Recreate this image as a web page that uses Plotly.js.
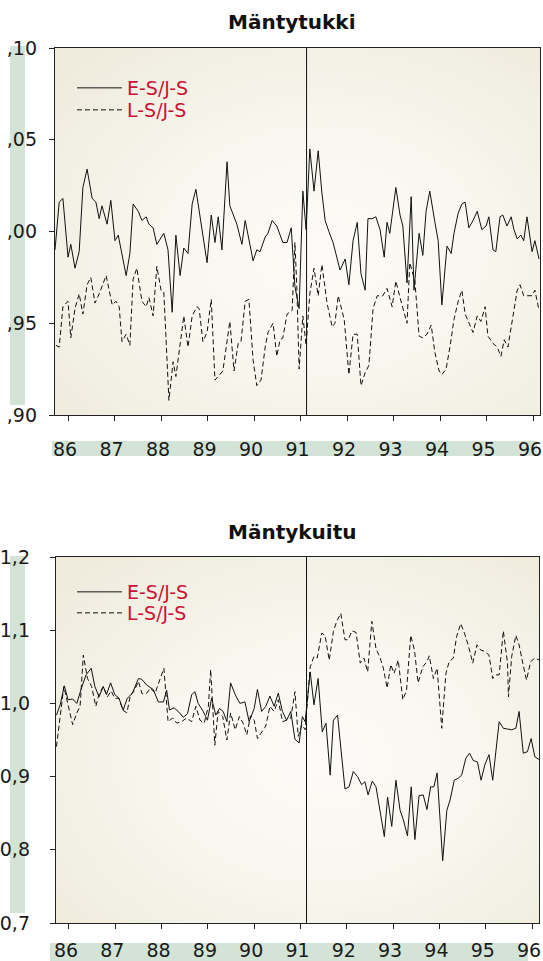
<!DOCTYPE html>
<html>
<head>
<meta charset="utf-8">
<script src="https://cdn.plot.ly/plotly-3.0.1.min.js"></script>
<style>html,body{margin:0;padding:0;background:#fff;}#chart{width:543px;height:961px;}</style>
</head>
<body>
<div id="chart"></div>
<script>
// ---------------- DATA ----------------
const tickYears = [86, 87, 88, 89, 90, 91, 92, 93, 94, 95, 96];
const tickYearLabels = ["86", "87", "88", "89", "90", "91", "92", "93", "94", "95", "96"];
const breakYear = 91.13;

const tukkiTickVals = [0.90, 0.95, 1.00, 1.05, 1.10];
const tukkiTickText = [",90", ",95", ",00", ",05", ",10"];
const kuituTickVals = [0.7, 0.8, 0.9, 1.0, 1.1, 1.2];
const kuituTickText = ["0,7", "0,8", "0,9", "1,0", "1,1", "1,2"];

const seriesNames = ["E-S/J-S", "L-S/J-S"];
const chartTitles = ["Mäntytukki", "Mäntykuitu"];

// Mäntytukki, E-S/J-S
const tukkiES_x = [85.72,85.81,85.89,86.00,86.06,86.15,86.24,86.32,86.41,86.52,86.60,86.67,86.73,86.84,86.92,87.01,87.08,87.25,87.33,87.40,87.51,87.59,87.68,87.74,87.83,87.91,88.06,88.15,88.24,88.32,88.41,88.49,88.58,88.67,88.75,88.82,88.90,88.99,89.08,89.16,89.23,89.31,89.42,89.48,89.63,89.74,89.81,89.98,90.06,90.13,90.24,90.30,90.39,90.49,90.62,90.71,90.80,90.88,90.97,91.05,91.12,91.20,91.29,91.38,91.46,91.53,91.61,91.70,91.85,91.96,92.04,92.13,92.22,92.30,92.39,92.45,92.54,92.62,92.71,92.80,92.86,92.92,93.05,93.14,93.20,93.29,93.38,93.44,93.55,93.63,93.70,93.78,93.89,93.96,94.04,94.15,94.24,94.30,94.39,94.47,94.54,94.62,94.71,94.80,94.90,94.99,95.05,95.14,95.20,95.29,95.35,95.44,95.53,95.59,95.66,95.74,95.80,95.87,95.98,96.04,96.13];
const tukkiES_y = [0.990,1.016,1.018,0.986,0.993,0.980,0.989,1.024,1.034,1.018,1.016,1.007,1.014,1.004,1.017,0.995,0.998,0.976,0.988,1.015,1.011,1.006,1.008,1.004,1.002,0.993,0.999,0.990,0.956,0.998,0.976,0.991,0.988,1.015,1.023,1.012,0.999,0.983,1.009,0.994,1.008,0.990,1.038,1.014,1.004,0.993,1.006,0.984,0.990,0.989,0.997,0.999,1.006,1.003,0.994,0.994,1.002,0.970,0.958,1.022,1.001,1.045,1.022,1.044,1.021,1.006,1.000,0.994,0.979,0.985,0.971,0.995,1.005,0.977,0.968,1.007,1.007,1.008,1.001,0.986,1.005,0.999,1.024,1.009,1.003,0.972,1.019,0.968,0.999,0.987,1.011,1.022,1.005,0.995,0.960,0.992,0.988,0.999,1.010,1.015,1.016,1.002,1.006,1.011,1.001,1.003,1.008,0.990,0.989,1.008,1.009,1.003,1.008,1.001,0.996,0.998,0.995,1.008,0.989,0.995,0.985];

// Mäntytukki, L-S/J-S
const tukkiLS_x = [85.74,85.81,85.89,86.00,86.06,86.15,86.24,86.32,86.41,86.49,86.58,86.67,86.82,86.95,87.03,87.10,87.16,87.25,87.33,87.40,87.48,87.59,87.68,87.74,87.83,87.91,88.00,88.06,88.17,88.26,88.32,88.41,88.49,88.58,88.67,88.77,88.82,88.90,88.99,89.08,89.16,89.33,89.48,89.57,89.66,89.72,89.81,89.89,89.98,90.06,90.15,90.24,90.30,90.41,90.49,90.56,90.62,90.71,90.82,90.88,90.92,90.97,91.05,91.12,91.20,91.29,91.38,91.46,91.57,91.68,91.74,91.81,91.94,92.04,92.13,92.22,92.30,92.39,92.47,92.56,92.65,92.77,92.86,92.97,93.05,93.14,93.20,93.29,93.35,93.46,93.55,93.63,93.72,93.81,93.89,93.98,94.04,94.13,94.22,94.30,94.39,94.47,94.54,94.62,94.71,94.80,94.88,94.97,95.03,95.14,95.23,95.31,95.38,95.46,95.55,95.66,95.72,95.80,95.89,95.98,96.04,96.13];
const tukkiLS_y = [0.938,0.937,0.959,0.962,0.942,0.958,0.966,0.955,0.971,0.975,0.961,0.966,0.976,0.960,0.962,0.959,0.940,0.944,0.938,0.974,0.980,0.962,0.959,0.964,0.954,0.981,0.968,0.967,0.908,0.929,0.921,0.937,0.954,0.937,0.954,0.959,0.958,0.940,0.945,0.963,0.919,0.924,0.951,0.924,0.939,0.940,0.962,0.963,0.930,0.916,0.919,0.937,0.945,0.950,0.932,0.941,0.942,0.955,0.957,0.994,0.970,0.925,0.954,0.938,0.966,0.980,0.965,0.982,0.961,0.948,0.950,0.965,0.952,0.922,0.944,0.944,0.916,0.923,0.927,0.958,0.965,0.965,0.969,0.959,0.973,0.964,0.958,0.950,0.983,0.973,0.943,0.942,0.944,0.949,0.934,0.924,0.922,0.925,0.938,0.952,0.962,0.968,0.955,0.950,0.945,0.954,0.951,0.959,0.943,0.939,0.937,0.932,0.941,0.937,0.951,0.968,0.971,0.965,0.965,0.965,0.968,0.957];

// Mäntykuitu, E-S/J-S
const kuituES_x = [85.73,85.81,85.90,85.98,86.08,86.17,86.27,86.37,86.48,86.56,86.65,86.74,86.81,86.90,86.99,87.08,87.17,87.26,87.37,87.50,87.57,87.68,87.82,87.93,88.04,88.11,88.17,88.27,88.36,88.47,88.56,88.65,88.72,88.79,88.90,88.99,89.08,89.17,89.25,89.33,89.41,89.49,89.59,89.69,89.80,89.89,90.00,90.07,90.16,90.25,90.34,90.43,90.52,90.61,90.70,90.79,90.88,90.97,91.04,91.10,91.21,91.29,91.38,91.47,91.55,91.64,91.71,91.80,91.96,92.05,92.14,92.23,92.32,92.39,92.46,92.55,92.63,92.72,92.81,92.88,92.97,93.06,93.15,93.22,93.31,93.39,93.47,93.56,93.65,93.73,93.81,93.88,93.95,94.07,94.16,94.23,94.32,94.41,94.48,94.57,94.65,94.73,94.82,94.90,94.98,95.07,95.15,95.29,95.38,95.47,95.56,95.65,95.72,95.81,95.90,95.98,96.06,96.16];
const kuituES_y = [0.984,0.998,1.024,1.005,1.006,1.000,1.021,1.039,1.048,1.023,1.009,1.023,1.012,1.028,1.012,1.007,0.991,1.007,1.014,1.034,1.033,1.025,1.019,1.002,1.002,1.018,0.991,0.994,0.989,0.981,0.986,1.012,1.016,1.000,0.989,0.977,1.007,0.984,0.993,0.989,0.975,1.028,1.012,1.000,1.002,0.975,0.993,1.019,0.989,0.996,1.010,0.996,1.014,0.989,0.977,0.989,0.951,0.946,0.982,0.975,1.043,0.998,1.034,0.961,0.973,0.902,0.977,0.984,0.883,0.886,0.907,0.900,0.889,0.893,0.875,0.894,0.886,0.854,0.818,0.872,0.832,0.895,0.854,0.841,0.819,0.886,0.814,0.874,0.875,0.855,0.886,0.886,0.905,0.785,0.854,0.868,0.895,0.898,0.902,0.925,0.932,0.922,0.920,0.895,0.916,0.930,0.895,0.975,0.966,0.965,0.964,0.966,0.989,0.932,0.934,0.952,0.927,0.923];

// Mäntykuitu, L-S/J-S
const kuituLS_x = [85.73,85.81,85.89,85.98,86.08,86.17,86.24,86.31,86.40,86.49,86.58,86.65,86.74,86.83,86.91,86.99,87.08,87.16,87.25,87.33,87.40,87.50,87.58,87.68,87.76,87.86,87.95,88.05,88.14,88.24,88.33,88.43,88.54,88.65,88.74,88.83,88.92,89.01,89.06,89.15,89.22,89.32,89.41,89.49,89.59,89.68,89.76,89.84,89.92,90.00,90.07,90.16,90.25,90.34,90.43,90.52,90.61,90.70,90.79,90.88,90.95,91.03,91.10,91.21,91.29,91.36,91.46,91.53,91.62,91.71,91.78,91.87,91.96,92.03,92.11,92.20,92.29,92.37,92.45,92.54,92.63,92.72,92.79,92.87,92.95,93.02,93.11,93.21,93.29,93.38,93.46,93.54,93.64,93.73,93.78,93.87,93.95,94.05,94.14,94.21,94.30,94.37,94.46,94.54,94.62,94.72,94.81,94.89,94.98,95.07,95.15,95.22,95.29,95.38,95.47,95.49,95.56,95.65,95.72,95.80,95.88,95.97,96.06,96.16];
const kuituLS_y = [0.941,0.982,1.023,0.998,0.971,0.987,0.996,1.066,1.034,1.023,0.996,1.013,1.023,1.009,1.017,1.007,1.007,0.991,0.987,1.012,1.016,1.030,1.013,1.014,1.021,1.014,1.030,1.048,0.975,0.980,0.973,0.975,0.980,0.975,0.996,0.977,0.973,0.996,1.046,0.943,0.989,0.982,0.950,0.987,0.964,0.982,0.973,0.957,0.983,0.977,0.952,0.961,0.969,0.996,0.989,1.005,0.975,0.977,0.980,1.016,0.955,0.971,0.964,1.050,1.064,1.062,1.096,1.093,1.059,1.098,1.112,1.123,1.087,1.087,1.099,1.097,1.055,1.062,1.043,1.112,1.075,1.062,1.048,1.021,1.053,1.041,1.059,1.005,1.018,1.093,1.073,1.028,1.050,1.057,1.065,1.034,1.048,0.966,1.041,1.057,1.062,1.091,1.109,1.096,1.080,1.055,1.080,1.073,1.071,1.066,1.034,1.039,1.039,1.099,1.055,1.009,1.064,1.093,1.080,1.055,1.032,1.057,1.062,1.059];

// ---------------- STYLE ----------------
const W = 543, H = 961;
const tickFont = {family: "DejaVu Sans", size: 19, color: "#1a1a1a"};
const legendFont = {family: "DejaVu Sans", size: 19, color: "#cc1236"};
const band = "rgb(211,228,214)";
const px = v => v / W, py = v => 1 - v / H;

const solid = {color: "#111", width: 1, dash: "solid"};
const dashed = {color: "#111", width: 1, dash: "5px,3px"};

const traces = [
  {x: tukkiES_x, y: tukkiES_y, name: seriesNames[0], mode: "lines", line: solid, xaxis: "x", yaxis: "y", legend: "legend"},
  {x: tukkiLS_x, y: tukkiLS_y, name: seriesNames[1], mode: "lines", line: dashed, xaxis: "x", yaxis: "y", legend: "legend2"},
  {x: kuituES_x, y: kuituES_y, name: seriesNames[0], mode: "lines", line: solid, xaxis: "x2", yaxis: "y2", legend: "legend3"},
  {x: kuituLS_x, y: kuituLS_y, name: seriesNames[1], mode: "lines", line: dashed, xaxis: "x2", yaxis: "y2", legend: "legend4"}
];

const svgBg = "<svg xmlns='http://www.w3.org/2000/svg' width='100' height='100' viewBox='0 0 100 100' preserveAspectRatio='none'>" +
  "<defs><radialGradient id='g' cx='55%' cy='55%' r='75%'>" +
  "<stop offset='0' stop-color='#fcfbf8'/><stop offset='0.45' stop-color='#f8f6ee'/><stop offset='1' stop-color='#eeebdc'/>" +
  "</radialGradient></defs><rect width='100' height='100' fill='url(#g)'/></svg>";
const bgSrc = "data:image/svg+xml;charset=utf-8," + encodeURIComponent(svgBg);

const top1 = 48, bot1 = 415, top2 = 557, bot2 = 923;
const left1 = 55, right1 = 540, left2 = 56, right2 = 539;

function xAxis(dom, anchor, standoff) {
  return {
    domain: dom, anchor: anchor, range: [85.72, 96.15],
    tickmode: "array", tickvals: tickYears, ticktext: tickYearLabels,
    ticks: "outside", ticklen: 5, tickwidth: 1, tickcolor: "#222",
    showline: true, mirror: true, linecolor: "#222", linewidth: 1.2,
    showgrid: false, zeroline: false, tickfont: tickFont, ticklabelstandoff: standoff,
    ticklabelshift: -3, ticklabeloverflow: "allow", fixedrange: true
  };
}
function yAxis(dom, anchor, range, vals, text, standoff) {
  return {
    domain: dom, anchor: anchor, range: range,
    tickmode: "array", tickvals: vals, ticktext: text,
    ticks: "outside", ticklen: 5, tickwidth: 1, tickcolor: "#222",
    showline: true, mirror: true, linecolor: "#222", linewidth: 1.2,
    showgrid: false, zeroline: false, tickfont: tickFont, ticklabelstandoff: standoff,
    ticklabeloverflow: "allow", fixedrange: true
  };
}
function legendAt(topPx) {
  return {x: px(72), xanchor: "left", y: py(topPx), yanchor: "top", font: legendFont,
          bgcolor: "rgba(0,0,0,0)", itemwidth: 45};
}

const layout = {
  width: W, height: H,
  margin: {l: 0, r: 0, t: 0, b: 0},
  paper_bgcolor: "#ffffff", plot_bgcolor: "rgba(0,0,0,0)",
  showlegend: true,
  xaxis: xAxis([px(left1), px(right1)], "y", 12),
  yaxis: yAxis([py(bot1), py(top1)], "x", [0.90, 1.10], tukkiTickVals, tukkiTickText, 8),
  xaxis2: xAxis([px(left2), px(right2)], "y2", 5),
  yaxis2: yAxis([py(bot2), py(top2)], "x2", [0.7, 1.2], kuituTickVals, kuituTickText, 16),
  legend: legendAt(69),
  legend2: legendAt(91),
  legend3: legendAt(573),
  legend4: legendAt(594),
  images: [
    {source: bgSrc, xref: "paper", yref: "paper", x: px(left1), y: py(top1),
     sizex: px(right1) - px(left1), sizey: py(top1) - py(bot1), sizing: "stretch", layer: "below"},
    {source: bgSrc, xref: "paper", yref: "paper", x: px(left2), y: py(top2),
     sizex: px(right2) - px(left2), sizey: py(top2) - py(bot2), sizing: "stretch", layer: "below"}
  ],
  shapes: [
    {type: "rect", xref: "paper", yref: "paper", layer: "below", line: {width: 0}, fillcolor: band,
     x0: px(10), x1: px(25), y0: py(405), y1: py(46)},
    {type: "rect", xref: "paper", yref: "paper", layer: "below", line: {width: 0}, fillcolor: band,
     x0: px(52), x1: px(537), y0: py(456), y1: py(441)},
    {type: "rect", xref: "paper", yref: "paper", layer: "below", line: {width: 0}, fillcolor: band,
     x0: px(10), x1: px(25), y0: py(913), y1: py(556)},
    {type: "rect", xref: "paper", yref: "paper", layer: "below", line: {width: 0}, fillcolor: band,
     x0: px(50), x1: px(528), y0: py(961), y1: py(943)},
    {type: "line", xref: "x", yref: "y domain", x0: breakYear, x1: breakYear, y0: 0, y1: 1,
     line: {color: "#111", width: 1}},
    {type: "line", xref: "x2", yref: "y2 domain", x0: breakYear, x1: breakYear, y0: 0, y1: 1,
     line: {color: "#111", width: 1}}
  ],
  annotations: [
    {text: "<b>" + chartTitles[0] + "</b>", xref: "paper", yref: "paper", x: px(292), y: py(22),
     xanchor: "center", yanchor: "middle", showarrow: false,
     font: {family: "DejaVu Sans", size: 20, color: "#111"}},
    {text: "<b>" + chartTitles[1] + "</b>", xref: "paper", yref: "paper", x: px(292), y: py(532),
     xanchor: "center", yanchor: "middle", showarrow: false,
     font: {family: "DejaVu Sans", size: 20, color: "#111"}}
  ]
};

Plotly.newPlot("chart", traces, layout, {displayModeBar: false, staticPlot: true});
</script>
</body>
</html>
